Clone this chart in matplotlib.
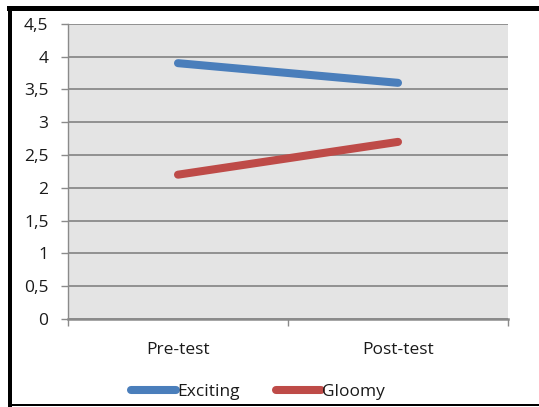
import matplotlib
matplotlib.use("Agg")
import matplotlib.pyplot as plt
from matplotlib.patches import Rectangle
from matplotlib.ticker import FixedLocator, NullFormatter, FixedFormatter

categories = ["Pre-test", "Post-test"]
exciting = [3.9, 3.6]
gloomy = [2.2, 2.7]
y_ticks = [0, 0.5, 1, 1.5, 2, 2.5, 3, 3.5, 4, 4.5]
y_labels = ["0", "0,5", "1", "1,5", "2", "2,5", "3", "3,5", "4", "4,5"]

W, H = 539, 407
plt.rcParams["font.family"] = ["Open Sans", "DejaVu Sans"]
FS = 12.5

fig = plt.figure(figsize=(W / 100, H / 100), dpi=100)
fig.patch.set_facecolor("white")

ax = fig.add_axes([68 / W, (H - 319) / H, (508 - 68) / W, (319 - 23.8) / H])
ax.set_facecolor("#e4e4e4")

grid_c = "#8a8a8a"
x = list(range(len(categories)))
ax.plot(x, exciting, color="#4a7ebb", lw=5.8, solid_capstyle="round", label="Exciting", zorder=3)
ax.plot(x, gloomy, color="#be4b48", lw=5.8, solid_capstyle="round", label="Gloomy", zorder=3)

ax.set_xlim(-0.5, len(categories) - 0.5)
ax.set_ylim(0, 4.5)

ax.yaxis.set_major_locator(FixedLocator(y_ticks))
ax.yaxis.set_major_formatter(FixedFormatter(y_labels))
ax.grid(axis="y", color=grid_c, lw=1.3, zorder=1)
ax.set_axisbelow(True)

ax.xaxis.set_major_locator(FixedLocator([-0.5, 0.5, 1.5]))
ax.xaxis.set_major_formatter(NullFormatter())
ax.xaxis.set_minor_locator(FixedLocator(x))
ax.xaxis.set_minor_formatter(FixedFormatter(categories))

ax.tick_params(axis="y", which="major", length=5, width=1, color=grid_c,
               labelsize=FS, labelcolor="#1a1a1a", pad=9)
ax.tick_params(axis="x", which="major", length=5, width=1, color=grid_c)
ax.tick_params(axis="x", which="minor", length=0, labelsize=FS,
               labelcolor="#1a1a1a", pad=16.5)

for side in ["top", "right"]:
    ax.spines[side].set_visible(False)
ax.spines["left"].set_color(grid_c)
ax.spines["left"].set_linewidth(1)
ax.spines["bottom"].set_color(grid_c)
ax.spines["bottom"].set_linewidth(1.8)

leg = fig.legend(loc="center", bbox_to_anchor=(258 / W, 1 - 392 / H), ncol=2,
                 frameon=False, fontsize=FS, handlelength=2.6,
                 handletextpad=0.05, columnspacing=2.1)
for t in leg.get_texts():
    t.set_color("#1a1a1a")

# frame around the chart
fig.add_artist(Rectangle((7 / W, 1 - 11 / H), 1 - 7 / W, 5 / H,
                         transform=fig.transFigure, color="black", lw=0))
fig.add_artist(Rectangle((8 / W, 0), 4 / W, 1 - 7 / H,
                         transform=fig.transFigure, color="black", lw=0))
fig.add_artist(Rectangle((8 / W, 1 / H), 1 - 8 / W, 2 / H,
                         transform=fig.transFigure, color="black", lw=0))

fig.savefig("out.png", dpi=100)
